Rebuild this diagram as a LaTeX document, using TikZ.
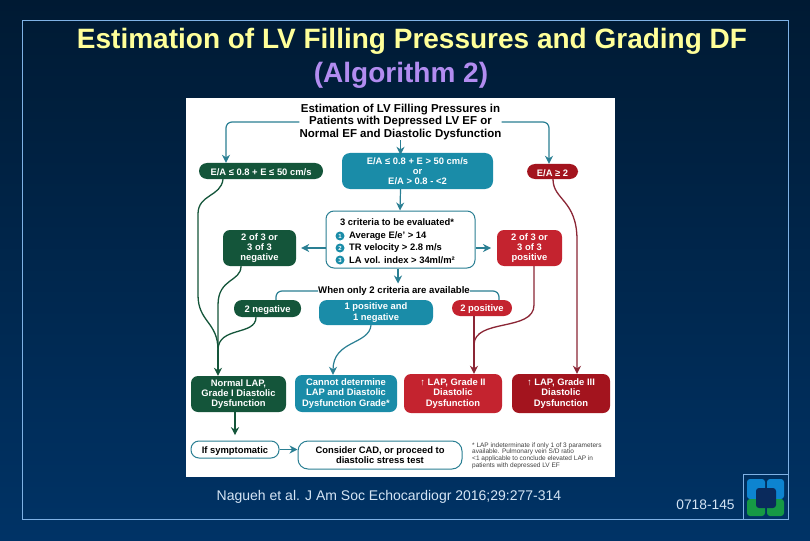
\documentclass[tikz,border=0pt]{standalone}
\usepackage{fontspec}
\setmainfont{Liberation Sans}
\usetikzlibrary{calc,arrows.meta}

\definecolor{bgtop}{HTML}{001A33}
\definecolor{bgbottom}{HTML}{003366}
\definecolor{framecol}{HTML}{7FB2E5}
\definecolor{titlecol}{HTML}{FFFF99}
\definecolor{algocol}{HTML}{B28CF0}
\definecolor{greenbox}{HTML}{14553A}
\definecolor{tealbox}{HTML}{1A8CA8}
\definecolor{redbox}{HTML}{C4232F}
\definecolor{darkredbox}{HTML}{A3141E}
\definecolor{tealline}{HTML}{2A7F93}
\definecolor{redline}{HTML}{8B2635}
\definecolor{creditcol}{HTML}{D5E5F5}

\tikzset{
	flowbox/.style={rounded corners=7pt, text=white, font=\fontsize{9.4}{10.2}\selectfont\bfseries, align=center, inner sep=0pt, execute at begin node={\rule{0pt}{9.5pt}}},
	greenflow/.style={flowbox, fill=greenbox},
	tealflow/.style={flowbox, fill=tealbox},
	redflow/.style={flowbox, fill=redbox},
	outlinebox/.style={rounded corners=8pt, draw=tealline, line width=1pt, fill=white, text=black, align=center, inner sep=0pt, font=\fontsize{9.4}{10.2}\selectfont\bfseries, execute at begin node={\rule{0pt}{9.5pt}}},
	tealarrow/.style={draw=tealline, line width=1.2pt, -{Stealth[length=8pt,width=8pt]}},
	tealplain/.style={draw=tealline, line width=1.2pt},
	greenarrow/.style={draw=greenbox, line width=1.3pt, -{Stealth[length=8pt,width=8pt]}},
	greenplain/.style={draw=greenbox, line width=1.3pt},
	redarrow/.style={draw=redline, line width=1.3pt, -{Stealth[length=8pt,width=8pt]}},
	redplain/.style={draw=redline, line width=1.3pt},
	numdot/.style={circle, fill=tealbox, text=white, minimum size=9pt, inner sep=0pt, font=\fontsize{6}{6}\selectfont\bfseries},
	criterion/.style={anchor=west, text=black, inner sep=0pt, font=\fontsize{9.4}{10}\selectfont\bfseries},
}

\begin{document}
\begin{tikzpicture}[x=1pt, y=-1pt]
	\useasboundingbox (0,0) rectangle (810,540);
	\shade[top color=bgtop, bottom color=bgbottom] (0,0) rectangle (810,540);
	\draw[framecol, line width=0.8pt] (22,20.5) rectangle (788,519);
	\draw[framecol, line width=0.8pt] (743.5,474.5) rectangle (788,519);
	
	% logo
	\fill[rounded corners=3pt, fill={rgb,255:red,13;green,132;blue,208}] (747,479) rectangle (765,499);
	\fill[rounded corners=3pt, fill={rgb,255:red,13;green,132;blue,208}] (767,479) rectangle (784,499);
	\fill[rounded corners=3pt, fill={rgb,255:red,22;green,153;blue,69}] (747,499) rectangle (765,516);
	\fill[rounded corners=3pt, fill={rgb,255:red,22;green,153;blue,69}] (767,499) rectangle (784,516);
	\fill[rounded corners=3pt, fill={rgb,255:red,10;green,42;blue,92}] (756,488) rectangle (776,508);
	
	\node[text=titlecol, font=\fontsize{28}{30}\selectfont\bfseries] (maintitle) at (412,41) {Estimation of LV Filling Pressures and Grading DF};
	\node[text=algocol, font=\fontsize{28}{30}\selectfont\bfseries] (algotitle) at (401,75) {(Algorithm 2)};
	\node[text=creditcol, font=\fontsize{14}{16}\selectfont] (credit) at (389,497) {Nagueh et al. J Am Soc Echocardiogr 2016;29:277-314};
	\node[text=creditcol, font=\fontsize{13.8}{16}\selectfont] (slidenum) at (705.5,505) {0718-145};
	
	\fill[white] (186,98) rectangle (615,477);
	
	\node[font=\fontsize{11.5}{12.6}\selectfont\bfseries, align=center, inner sep=0pt] (header) at (400.5,122) {Estimation of LV Filling Pressures in\\Patients with Depressed LV EF or\\Normal EF and Diastolic Dysfunction};
	
	% top row
	\node[greenflow, rounded corners=8pt, minimum width=124pt, minimum height=16pt] (ealow) at (261,171) {E/A ≤ 0.8 + E ≤ 50 cm/s};
	\node[tealflow, rounded corners=8pt, minimum width=151pt, minimum height=36pt] (eamid) at (417.5,171) {E/A ≤ 0.8 + E > 50 cm/s\\or\\E/A > 0.8 - <2};
	\node[redflow, rounded corners=8pt, fill=darkredbox, minimum width=51pt, minimum height=15pt] (eahigh) at (552.5,171.5) {E/A ≥ 2};
	
	% criteria
	\node[outlinebox, minimum width=149pt, minimum height=57pt] (criteria) at (400.5,239.5) {};
	\node[inner sep=0pt, font=\fontsize{9.4}{10}\selectfont\bfseries] (critlabel) at (397,222) {3 criteria to be evaluated*};
	\node[numdot] (numa) at (340,236) {1};
	\node[numdot] (numb) at (340,248) {2};
	\node[numdot] (numc) at (340,260) {3};
	\node[criterion] (crita) at (349,236) {Average E/e' > 14};
	\node[criterion] (critb) at (349,248) {TR velocity > 2.8 m/s};
	\node[criterion] (critc) at (349,260) {LA vol. index > 34ml/m²};
	\node[greenflow, minimum width=73pt, minimum height=36pt] (negbox) at (259.5,248) {2 of 3 or\\3 of 3\\negative};
	\node[redflow, minimum width=65pt, minimum height=36pt] (posbox) at (529.5,248) {2 of 3 or\\3 of 3\\positive};
	
	% two criteria row
	\node[inner sep=0pt, font=\fontsize{9.6}{10}\selectfont\bfseries] (twocrit) at (394,291) {When only 2 criteria are available};
	\node[greenflow, rounded corners=8pt, minimum width=67pt, minimum height=17pt] (twoneg) at (267.5,308.5) {2 negative};
	\node[tealflow, rounded corners=8pt, minimum width=114pt, minimum height=25pt] (onepos) at (376,312.5) {1 positive and\\1 negative};
	\node[redflow, rounded corners=8pt, minimum width=60pt, minimum height=16pt] (twopos) at (482,308) {2 positive};
	
	% results
	\node[greenflow, minimum width=95pt, minimum height=36pt] (normal) at (238.5,394) {Normal LAP,\\Grade I Diastolic\\Dysfunction};
	\node[tealflow, minimum width=102pt, minimum height=37pt] (cannot) at (346,393.5) {Cannot determine\\LAP and Diastolic\\Dysfunction Grade*};
	\node[redflow, minimum width=98pt, minimum height=39pt] (gradetwo) at (453,393.5) {↑ LAP, Grade II\\Diastolic\\Dysfunction};
	\node[redflow, fill=darkredbox, minimum width=98pt, minimum height=39pt] (gradethree) at (561,393.5) {↑ LAP, Grade III\\Diastolic\\Dysfunction};
	
	% bottom row
	\node[outlinebox, minimum width=88pt, minimum height=17pt] (sympt) at (235,449.5) {If symptomatic};
	\node[outlinebox, rounded corners=10pt, minimum width=164pt, minimum height=28pt] (consider) at (380,455) {Consider CAD, or proceed to\\diastolic stress test};
	\node[anchor=west, align=left, inner sep=0pt, font=\fontsize{6.5}{6.7}\selectfont, text=black!75] (footnote) at (472,455.5) {* LAP indeterminate if only 1 of 3 parameters\\available. Pulmonary vein S/D ratio\\<1 applicable to conclude elevated LAP in\\patients with depressed LV EF};
	
	\coordinate (greenmerge) at (218,350);
	\coordinate (redmerge) at (474,345);
	
	% connectors from the header
	\draw[tealarrow, rounded corners=6pt] (header.west |- 0,122) -- (226,122) -- ([xshift=-35pt]ealow.north);
	\draw[tealarrow, rounded corners=6pt] (header.east |- 0,122) -- (549,122) -- ([xshift=-3.5pt]eahigh.north);
	\draw[tealarrow] (header.south) -- ([xshift=-17pt, yshift=-2pt]eamid.north);
	\draw[tealarrow] ([xshift=-17pt]eamid.south) -- ([xshift=-0.5pt]criteria.north);
	\draw[tealarrow] (criteria.south -| 398,0) -- ++(0,15);
	\draw[tealarrow] (criteria.west |- negbox) -- ([xshift=5pt]negbox.east);
	\draw[tealarrow] (criteria.east |- posbox) -- (posbox.east -| 491,0);
	\draw[tealplain, rounded corners=6pt] (twocrit.west) -- (276,291) -- ([xshift=8.5pt]twoneg.north);
	\draw[tealplain, rounded corners=6pt] (twocrit.east) -- (499,291) -- ([xshift=17pt]twopos.north);
	
	% green side
	\draw[greenplain] ([xshift=-38pt]ealow.south) .. controls (221,197) and (198,194) .. (198,214) -- (198,295) .. controls (198,322) and (218,322) .. (greenmerge);
	\draw[greenplain] ([xshift=-18.5pt]negbox.south) .. controls (241,282) and (218,278) .. (218,305) -- (greenmerge);
	\draw[greenplain] ([xshift=-11.5pt]twoneg.south) .. controls (256,336) and (218,326) .. (greenmerge);
	\draw[greenarrow] (greenmerge) -- (normal.north -| greenmerge);
	\draw[greenarrow] (normal.south -| 235,0) -- ++(0,23);
	
	% teal side
	\draw[tealarrow] ([xshift=-5pt]onepos.south) .. controls (369,345) and (333,340) .. (cannot.north -| 333,0);
	\draw[tealarrow] (sympt.east) -- (consider.west |- sympt);
	
	% red side
	\draw[redarrow] ([xshift=-8pt]twopos.south) -- ([xshift=21pt]gradetwo.north);
	\draw[redplain] ([xshift=4.5pt]posbox.south) -- (534,305) .. controls (534,332) and (474,318) .. (redmerge);
	\draw[redarrow] ([xshift=0.5pt]eahigh.south) .. controls (553,200) and (577,200) .. (577,240) -- (gradethree.north -| 577,0);
\end{tikzpicture}
\end{document}
